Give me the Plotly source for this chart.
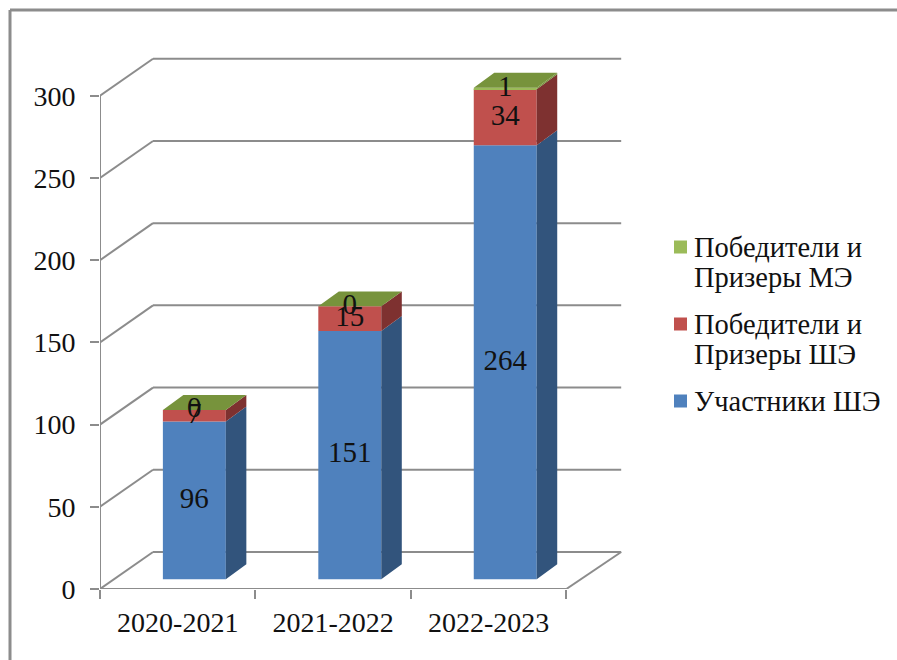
import plotly.graph_objects as go

years = ["2020-2021", "2021-2022", "2022-2023"]
uchastniki = [96, 151, 264]
prizery_she = [7, 15, 34]
prizery_me = [0, 0, 1]
y_ticks = [0, 50, 100, 150, 200, 250, 300]

series = [
    ("Участники ШЭ", uchastniki, "#4F81BD", "#32547C"),
    ("Победители и<br>Призеры ШЭ", prizery_she, "#C0504D", "#7E3130"),
    ("Победители и<br>Призеры МЭ", prizery_me, "#9BBB59", "#77933C"),
]

FONT = "Liberation Serif"
GRID = "#8C8C8C"
W, H = 897, 660
L, R, T, B = 100, 257, 40, 71

# fake 3d: offsets in axis units
WALL_DX, WALL_DY = 0.341, 22.5
WALL_END = 3.353
BAR_DX, BAR_DY = 0.132, 9.1
BAR_LIFT = 5.9
BAR_W = 0.405
BAR_POS = 0.607


def px(x):
    return (x - L) / (W - L - R)


def py(y):
    return (H - B - y) / (H - T - B)


fig = go.Figure()
xs = [i + BAR_POS for i in range(len(years))]
base = [BAR_LIFT] * len(years)
label_x, label_y, label_t = [], [], []

for name, vals, col, dark in series:
    fig.add_bar(x=xs, y=vals, base=base, width=BAR_W, marker=dict(color=col, line_width=0),
                showlegend=False, name=name.replace("<br>", " "), hoverinfo="skip")
    sx, sy = [], []
    for x, b, v in zip(xs, base, vals):
        r = x + BAR_W / 2
        sx += [r, r + BAR_DX, r + BAR_DX, r, r, None]
        sy += [b, b + BAR_DY, b + v + BAR_DY, b + v, b, None]
        label_x.append(x)
        label_y.append(b + v / 2)
        label_t.append(str(v))
    fig.add_scatter(x=sx, y=sy, mode="lines", fill="toself", fillcolor=dark, line_width=0,
                    showlegend=False, hoverinfo="skip")
    base = [b + v for b, v in zip(base, vals)]

# green lid of each column
tx, ty = [], []
for x, t in zip(xs, base):
    l, r = x - BAR_W / 2, x + BAR_W / 2
    tx += [l, r, r + BAR_DX, l + BAR_DX, l, None]
    ty += [t, t, t + BAR_DY, t + BAR_DY, t, None]
fig.add_scatter(x=tx, y=ty, mode="lines", fill="toself", fillcolor="#77933C", line_width=0,
                showlegend=False, hoverinfo="skip")

fig.add_scatter(x=label_x, y=label_y, text=label_t, mode="text",
                textfont=dict(family=FONT, size=29, color="#111111"), textposition="middle center",
                showlegend=False, hoverinfo="skip")

# back walls and floor, under the bars
line = dict(color=GRID, width=2)
n = len(years)
for v in y_ticks:
    fig.add_shape(type="line", x0=0, y0=v, x1=WALL_DX, y1=v + WALL_DY, line=line, layer="below")
    fig.add_shape(type="line", x0=WALL_DX, y0=v + WALL_DY, x1=WALL_END, y1=v + WALL_DY, line=line, layer="below")
fig.add_shape(type="line", x0=n, y0=0, x1=WALL_END, y1=WALL_DY, line=line, layer="below")
fig.add_shape(type="line", x0=0, y0=0, x1=0, y1=y_ticks[-1], line=line, layer="below")
fig.add_shape(type="line", x0=0, y0=0, x1=n, y1=0, line=line, layer="below")

# frame, top and left only
frame = dict(color="#8C8C8C", width=3)
fig.add_shape(type="line", xref="paper", yref="paper", x0=px(10), y0=py(10), x1=px(897), y1=py(10), line=frame)
fig.add_shape(type="line", xref="paper", yref="paper", x0=px(10), y0=py(10), x1=px(10), y1=py(660), line=frame)

# legend by hand, line spacing is tighter than plotly's own legend allows
legend_rows = [
    (247, series[2][2], ["Победители и", "Призеры МЭ"]),
    (324, series[1][2], ["Победители и", "Призеры ШЭ"]),
    (401, series[0][2], ["Участники ШЭ"]),
]
for cy, col, rows in legend_rows:
    fig.add_shape(type="rect", xref="paper", yref="paper", x0=px(674), x1=px(687), y0=py(cy - 6.5), y1=py(cy + 6.5),
                  fillcolor=col, line_width=0)
    for i, row in enumerate(rows):
        fig.add_annotation(xref="paper", yref="paper", x=px(695), y=py(cy + i * 30), text=row, showarrow=False,
                           xanchor="left", yanchor="middle", xshift=-3,
                           font=dict(family=FONT, size=28.5, color="#111111"))

# invisible trace so the label axis exists
fig.add_scatter(x=[0.5, 1.5, 2.5], y=[None] * 3, xaxis="x2", showlegend=False, hoverinfo="skip")

fig.update_layout(
    width=W, height=H, autosize=False,
    margin=dict(l=L, r=R, t=T, b=B),
    paper_bgcolor="white", plot_bgcolor="white",
    barmode="overlay", showlegend=False,
    font=dict(family=FONT, size=28, color="#111111"),
    xaxis=dict(range=[0, 3.474], tickvals=[0, 1, 2, 3], ticktext=["", "", "", ""], ticks="outside",
               ticklen=9, tickwidth=2, tickcolor=GRID, showgrid=False, zeroline=False, showline=False),
    xaxis2=dict(range=[0, 3.474], overlaying="x", anchor="y", side="bottom", tickvals=[0.5, 1.5, 2.5],
                ticktext=years, ticks="", showgrid=False, zeroline=False, showline=False,
                ticklabelstandoff=14, tickfont=dict(size=28)),
    yaxis=dict(range=[0, 333.9], tickvals=y_ticks, ticks="outside", ticklen=9, tickwidth=2, tickcolor=GRID,
               showgrid=False, zeroline=False, showline=False, ticklabelstandoff=9, tickfont=dict(size=28)),
)

fig.write_html("out.html", post_script="document.body.style.margin='0';", config={"displayModeBar": False})
